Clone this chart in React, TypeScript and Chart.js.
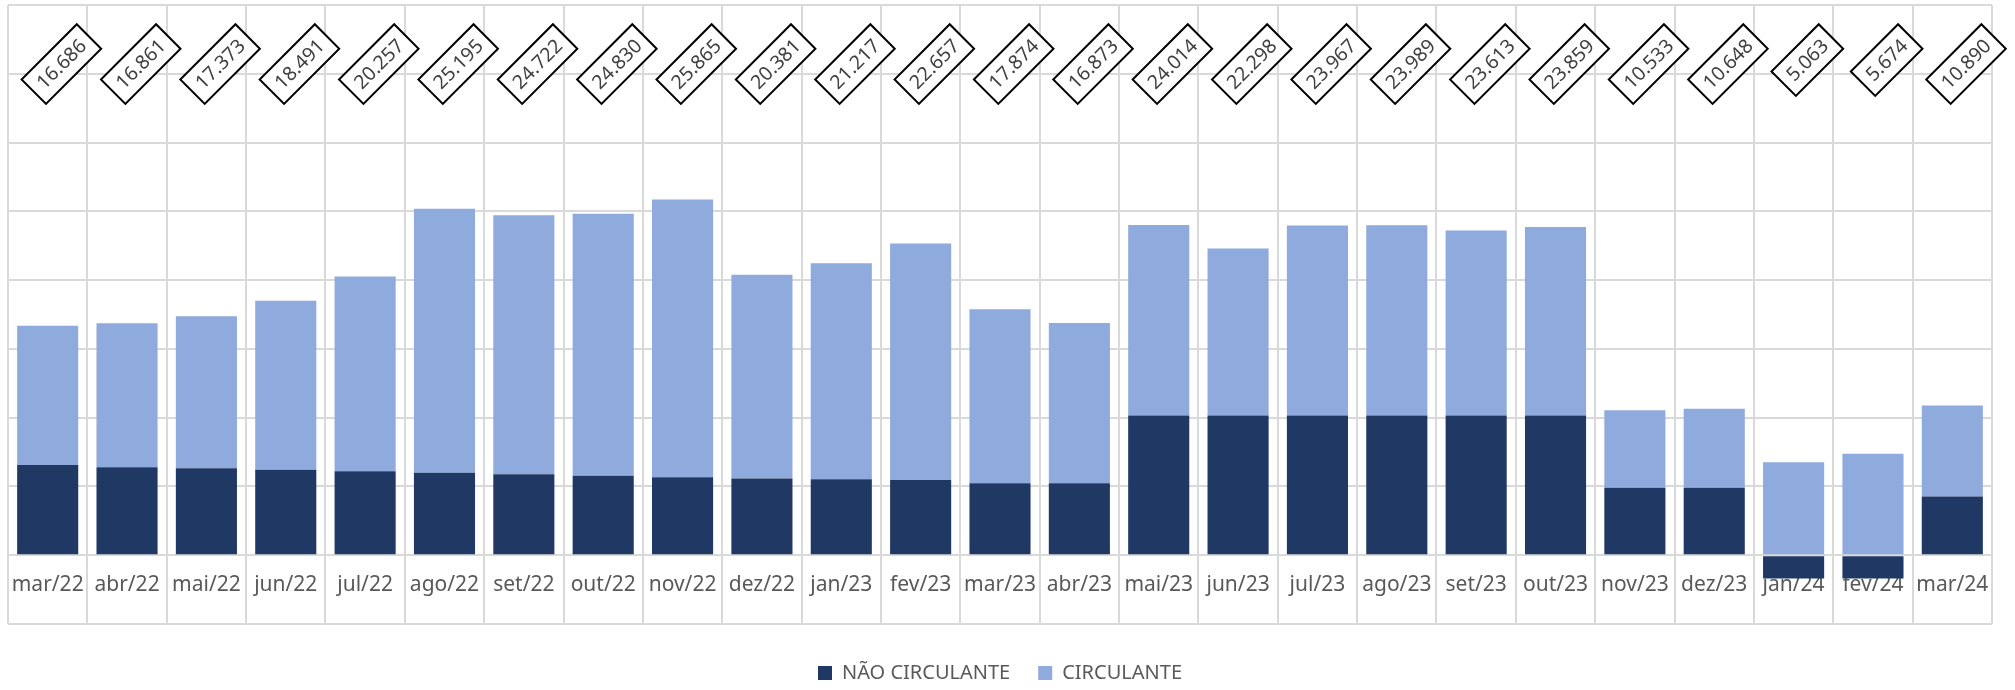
import React, { useEffect, useRef } from "react";
import { Chart, registerables } from "chart.js";

Chart.register(...registerables);

const categories = [
  "mar/22", "abr/22", "mai/22", "jun/22", "jul/22", "ago/22", "set/22", "out/22", "nov/22",
  "dez/22", "jan/23", "fev/23", "mar/23", "abr/23", "mai/23", "jun/23", "jul/23", "ago/23",
  "set/23", "out/23", "nov/23", "dez/23", "jan/24", "fev/24", "mar/24",
];

const totals = [
  16686, 16861, 17373, 18491, 20257, 25195, 24722, 24830, 25865, 20381, 21217, 22657, 17874,
  16873, 24014, 22298, 23967, 23989, 23613, 23859, 10533, 10648, 5063, 5674, 10890,
];

const naoCirculante = [
  6550, 6400, 6330, 6210, 6110, 5990, 5890, 5770, 5670, 5580, 5530, 5460, 5240, 5240, 10150,
  10150, 10150, 10150, 10150, 10150, 4900, 4900, -1700, -1700, 4260,
];

const circulante = [
  10136, 10461, 11043, 12281, 14147, 19205, 18832, 19060, 20195, 14801, 15687, 17197, 12634,
  11633, 13864, 12148, 13817, 13839, 13463, 13709, 5633, 5748, 6763, 7374, 6630,
];

const FONT = "'Noto Sans', 'DejaVu Sans', sans-serif";
const GRID = "#d9d9d9";
const LEGEND_PAD = 28;
const LEGEND_FONT = 20;

function fmt(v: number): string {
  const neg = v < 0;
  const a = Math.abs(Math.round(v));
  const th = Math.floor(a / 1000);
  const rest = a % 1000;
  const s = th > 0 ? `${th}.${String(rest).padStart(3, "0")}` : String(rest);
  return neg ? "-" + s : s;
}

const totalLabels = {
  id: "totalLabels",
  afterDatasetsDraw(chart: any) {
    const { ctx, scales } = chart;
    const xs = scales.x;
    const ys = scales.y;
    const topY = ys.getPixelForValue(38600);
    ctx.save();
    ctx.font = `19.5px ${FONT}`;
    ctx.textAlign = "center";
    ctx.textBaseline = "middle";
    totals.forEach((t, i) => {
      const text = fmt(t);
      const tw = ctx.measureText(text).width;
      const L = tw + 17;
      const H = 34.5;
      const cx = xs.getPixelForValue(i) + 13.7;
      const cy = topY + (L + H) / (2 * Math.SQRT2);
      ctx.save();
      ctx.translate(cx, cy);
      ctx.rotate(-Math.PI / 4);
      ctx.fillStyle = "#ffffff";
      ctx.fillRect(-L / 2, -H / 2, L, H);
      ctx.lineWidth = 2;
      ctx.strokeStyle = "#000000";
      ctx.strokeRect(-L / 2, -H / 2, L, H);
      ctx.fillStyle = "#404040";
      ctx.fillText(text, 0, 1);
      ctx.restore();
    });
    ctx.restore();
  },
};

const legendPlace = {
  id: "legendPlace",
  afterLayout(chart: any) {
    const lg = chart.legend;
    if (!lg) return;
    const h = lg.height;
    lg.top = 673 - LEGEND_PAD - LEGEND_FONT / 2;
    lg.bottom = lg.top + h;
  },
};

export default function App() {
  const ref = useRef<HTMLCanvasElement | null>(null);

  useEffect(() => {
    if (!ref.current) return;
    const chart = new Chart(ref.current, {
      type: "bar",
      data: {
        labels: categories,
        datasets: [
          {
            label: "NÃO CIRCULANTE",
            data: naoCirculante,
            backgroundColor: "#203864",
            borderWidth: 0,
            barPercentage: 0.77,
            categoryPercentage: 1,
          },
          {
            label: "CIRCULANTE",
            data: circulante,
            backgroundColor: "#8faadc",
            borderWidth: 0,
            barPercentage: 0.77,
            categoryPercentage: 1,
          },
        ],
      },
      options: {
        responsive: false,
        animation: false,
        layout: { padding: { left: 8, right: 23, top: 5, bottom: 8 } },
        scales: {
          x: {
            stacked: true,
            position: { y: 0 } as any,
            grid: {
              color: GRID,
              lineWidth: 2,
              drawTicks: true,
              tickLength: 17,
              tickColor: "rgba(0,0,0,0)",
              offset: true,
            },
            border: { display: true, color: GRID, width: 2 },
            ticks: {
              color: "#595959",
              font: { family: FONT, size: 21 },
              padding: 0,
              maxRotation: 0,
              autoSkip: false,
            },
          },
          y: {
            stacked: true,
            min: -5000,
            max: 40000,
            grid: { color: GRID, lineWidth: 2, drawTicks: false },
            border: { display: false },
            ticks: { display: false, stepSize: 5000 },
          },
        },
        plugins: {
          legend: {
            position: "bottom",
            labels: {
              color: "#595959",
              font: { family: FONT, size: LEGEND_FONT },
              boxWidth: 14,
              boxHeight: 14,
              padding: LEGEND_PAD,
            },
          },
          tooltip: { enabled: false },
        },
      },
      plugins: [totalLabels, legendPlace],
    });
    return () => chart.destroy();
  }, []);

  return (
    <div style={{ position: "fixed", left: 0, top: 0, width: 2015, height: 690, background: "#fff" }}>
      <canvas ref={ref} width={2015} height={690} style={{ width: 2015, height: 690, display: "block" }} />
    </div>
  );
}
